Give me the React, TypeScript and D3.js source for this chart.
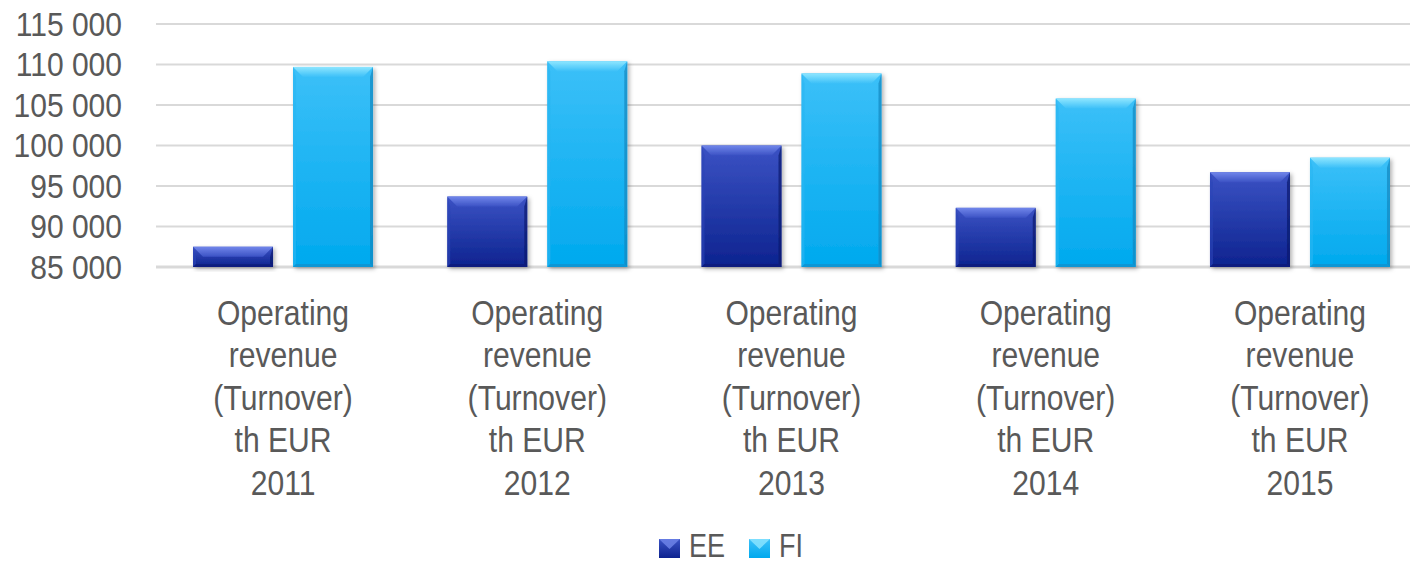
import React from "react";
import * as d3 from "d3";

const categories = ["2011", "2012", "2013", "2014", "2015"];
const seriesNames = ["EE", "FI"];
const eeValues = [87500, 93700, 100000, 92300, 96700];
const fiValues = [109700, 110400, 108900, 105800, 98500];
const yTicks = [85000, 90000, 95000, 100000, 105000, 110000, 115000];
const labelLines = ["Operating", "revenue", "(Turnover)", "th EUR"];

const W = 1410;
const H = 566;
const FONT = "'Liberation Sans Narrow', 'Arial Narrow', 'Liberation Sans', Arial, sans-serif";
const TEXT = "#595959";

const palette: Record<string, any> = {
  EE: { top: "#3b52c4", bottom: "#0d238f", bevel: "#7186ea", right: "#0a1a6e", left: "#2c44b8", bot: "#0a1c78" },
  FI: { top: "#3cc0f8", bottom: "#00a9ee", bevel: "#8ee6ff", right: "#1688bf", left: "#2ab6f2", bot: "#0b8fcb" },
};

function Bar({ x, y, w, h, s }: { x: number; y: number; w: number; h: number; s: string }) {
  const p = palette[s];
  const b = Math.min(10, h / 2, w / 2);
  const sb = 3;
  return (
    <g filter="url(#shadow)">
      <rect x={x} y={y} width={w} height={h} fill={`url(#grad-${s})`} />
      <polygon points={`${x},${y} ${x + w},${y} ${x + w - b},${y + b} ${x + b},${y + b}`} fill={`url(#bev-${s})`} />
      <polygon points={`${x},${y} ${x + sb},${y + b} ${x + sb},${y + h - sb} ${x},${y + h}`} fill={p.left} opacity={0.6} />
      <polygon points={`${x + w},${y} ${x + w - sb},${y + b} ${x + w - sb},${y + h - sb} ${x + w},${y + h}`} fill={p.right} opacity={0.7} />
      <polygon points={`${x},${y + h} ${x + w},${y + h} ${x + w - sb},${y + h - sb} ${x + sb},${y + h - sb}`} fill={p.bot} opacity={0.7} />
    </g>
  );
}

export default function App() {
  const x0 = d3.scaleBand<string>().domain(categories).range([155.9, 1427.1]).paddingInner(0.292).paddingOuter(0.146);
  const x1 = d3.scaleBand<string>().domain(seriesNames).range([0, x0.bandwidth()]).paddingInner(0.2).paddingOuter(0);
  const y = d3.scaleLinear().domain([85000, 115000]).range([267, 24]);
  const values: Record<string, number[]> = { EE: eeValues, FI: fiValues };

  return (
    <svg width={W} height={H} style={{ position: "absolute", left: 0, top: 0, background: "#fff" }} fontFamily={FONT}>
      <defs>
        {seriesNames.map((s) => (
          <React.Fragment key={s}>
            <linearGradient id={`grad-${s}`} x1="0" y1="0" x2="0" y2="1">
              <stop offset="0" stopColor={palette[s].top} />
              <stop offset="1" stopColor={palette[s].bottom} />
            </linearGradient>
            <linearGradient id={`bev-${s}`} x1="0" y1="0" x2="0" y2="1">
              <stop offset="0" stopColor={palette[s].bevel} />
              <stop offset="1" stopColor={palette[s].top} />
            </linearGradient>
          </React.Fragment>
        ))}
        <filter id="shadow" x="-20%" y="-10%" width="140%" height="130%">
          <feDropShadow dx="2" dy="2" stdDeviation="2" floodColor="#000" floodOpacity="0.3" />
        </filter>
      </defs>

      {yTicks.map((t) => (
        <g key={t}>
          <line x1={156} x2={W} y1={y(t)} y2={y(t)} stroke="#d9d9d9" strokeWidth={t === 85000 ? 3 : 2} />
          <text transform={`translate(122,${y(t)}) scale(0.91,1)`} dy="0.35em" textAnchor="end" fontSize={33} fill={TEXT}>
            {d3.format(",")(t).replace(/,/g, " ")}
          </text>
        </g>
      ))}

      {categories.map((c, i) => (
        <g key={c}>
          {seriesNames.map((s) => {
            const v = values[s][i];
            const bx = (x0(c) as number) + (x1(s) as number);
            return <Bar key={s} x={bx} y={y(v)} w={x1.bandwidth()} h={y(85000) - y(v)} s={s} />;
          })}
          <text
            transform={`translate(${(x0(c) as number) + x0.bandwidth() / 2},325) scale(0.86,1)`}
            textAnchor="middle"
            fontSize={35}
            fill={TEXT}
          >
            {[...labelLines, c].map((l, k) => (
              <tspan key={k} x={0} y={k * 42.5}>
                {l}
              </tspan>
            ))}
          </text>
        </g>
      ))}

      {seriesNames.map((s, i) => {
        const lx = [659, 749][i];
        const p = palette[s];
        return (
          <g key={s}>
            <rect x={lx} y={539} width={21} height={19} fill={`url(#grad-${s})`} />
            <polygon points={`${lx},${539} ${lx + 21},${539} ${lx + 10.5},${549}`} fill={p.bevel} opacity={0.8} />
            <text transform={`translate(${lx + 30},557) scale(0.82,1)`} fontSize={33} fill={TEXT}>
              {s}
            </text>
          </g>
        );
      })}
    </svg>
  );
}
